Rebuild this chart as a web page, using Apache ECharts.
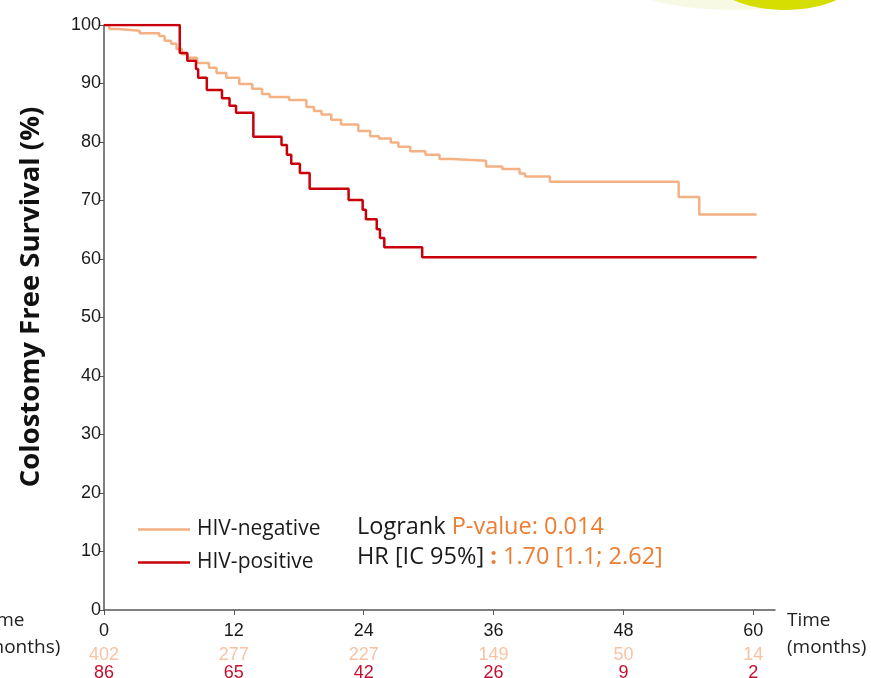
<!DOCTYPE html>
<html>
<head>
<meta charset="utf-8">
<script src="https://cdn.jsdelivr.net/npm/echarts@6/dist/echarts.min.js"></script>
<style>
  html, body { margin: 0; padding: 0; background: #fff; }
  #main { width: 871px; height: 678px; }
</style>
</head>
<body>
<div id="main"></div>
<script>
// HIV-negative (months, % free)
var negT = [0, 0.5, 1.3, 3.3, 5.1, 5.6, 6.2, 6.7, 7.2, 7.7, 8.6, 9.7, 10.4, 11.3, 12.5, 13.7, 14.6, 15.3, 17.1, 18.7, 19.4, 20.1, 21.0, 21.9, 23.5, 24.6, 25.4, 26.5, 27.2, 28.3, 29.7, 31.0, 32.2, 35.3, 36.8, 38.4, 38.9, 41.2, 53.1, 55.0, 60.3];
var negS = [100, 99.3, 99.0, 98.6, 98.1, 97.3, 96.8, 95.9, 95.0, 94.4, 93.5, 92.7, 91.8, 91.0, 89.9, 89.1, 88.2, 87.7, 87.2, 86.0, 85.3, 84.7, 83.8, 83.0, 81.9, 81.0, 80.6, 79.9, 79.2, 78.4, 77.8, 77.1, 76.8, 75.8, 75.4, 74.6, 74.1, 73.2, 70.6, 67.6, 67.6];
// HIV-positive
var posT = [0, 7.0, 7.7, 8.5, 8.7, 9.5, 10.9, 11.6, 12.2, 13.8, 16.4, 16.9, 17.3, 18.1, 19.0, 22.6, 23.9, 24.2, 25.2, 25.5, 25.9, 29.4, 60.3];
var posS = [100, 95.2, 93.9, 92.5, 91.0, 88.9, 87.5, 86.2, 85.0, 80.9, 79.5, 77.8, 76.3, 74.7, 72.0, 70.1, 68.4, 66.8, 65.1, 63.6, 62.0, 60.3, 60.3];

// number at risk
var riskTimes = [0, 12, 24, 36, 48, 60];
var riskNeg = [402, 277, 227, 149, 50, 14];
var riskPos = [86, 65, 42, 26, 9, 2];

var colNeg = '#f4b183';
var colPos = '#c8000a';

function pairs(t, s) {
    var out = [];
    for (var i = 0; i < t.length; i++) out.push([t[i], s[i]]);
    return out;
}

function riskAxis(offset, counts, color) {
    return {
        type: 'value', min: 0, max: 62, position: 'bottom', offset: offset,
        axisLine: { show: false }, axisTick: { show: false }, splitLine: { show: false },
        axisLabel: {
            customValues: riskTimes, margin: 13,
            color: color, fontFamily: 'Liberation Sans', fontSize: 18,
            formatter: function (v) { return counts[riskTimes.indexOf(v)]; }
        }
    };
}

var myChart = echarts.init(document.getElementById('main'));

var option = {
    animation: false,
    backgroundColor: '#fff',
    grid: { left: 104, right: 96, top: 25, bottom: 68, containLabel: false, outerBoundsMode: 'none' },
    legend: {
        orient: 'vertical', left: 133, top: 514, itemGap: 12,
        itemWidth: 52, itemHeight: 2.5, icon: 'rect',
        textStyle: { fontFamily: 'Open Sans', fontSize: 21, color: '#1a1a1a', padding: [0, 0, 0, 2] },
        data: ['HIV-negative', 'HIV-positive']
    },
    xAxis: [{
        type: 'value', min: 0, max: 62,
        axisLine: { lineStyle: { color: '#555', width: 1.5 } },
        axisTick: { customValues: riskTimes, length: 5, lineStyle: { color: '#555' } },
        axisLabel: { customValues: riskTimes, margin: 12, color: '#1a1a1a', fontFamily: 'Liberation Sans', fontSize: 18 },
        splitLine: { show: false }
    },
        riskAxis(23, riskNeg, '#f8c3a3'),
        riskAxis(41, riskPos, '#c8102e')
    ],
    yAxis: {
        type: 'value', min: 0, max: 100, interval: 10,
        axisLine: { show: true, lineStyle: { color: '#555', width: 1.5 } },
        axisTick: { show: true, length: 5, lineStyle: { color: '#555' } },
        axisLabel: { margin: 3, color: '#1a1a1a', fontFamily: 'Liberation Sans', fontSize: 18 },
        splitLine: { show: false }
    },
    series: [{
        name: 'HIV-negative', type: 'line', step: 'end', symbol: 'none',
        lineStyle: { color: colNeg, width: 2.5 }, itemStyle: { color: colNeg },
        data: pairs(negT, negS)
    }, {
        name: 'HIV-positive', type: 'line', step: 'end', symbol: 'none',
        lineStyle: { color: colPos, width: 2.5 }, itemStyle: { color: colPos },
        data: pairs(posT, posS)
    }],
    graphic: [
        // decorative blob top right
        { type: 'ellipse', shape: { cx: 735, cy: -18, rx: 110, ry: 28 }, style: { fill: '#f8f9e4' }, silent: true },
        { type: 'ellipse', shape: { cx: 785, cy: -30, rx: 78, ry: 40 }, style: { fill: '#d6dd00' }, silent: true },
        {
            type: 'text', x: 31, y: 297, rotation: Math.PI / 2,
            style: { text: 'Colostomy Free Survival (%)', fontFamily: 'Open Sans', fontWeight: 'bold', fontSize: 27.5, fill: '#111', align: 'center', verticalAlign: 'middle' }
        },
        { type: 'text', x: 787, y: 621, style: { text: 'Time', fontFamily: 'Open Sans', fontSize: 19, fill: '#222', verticalAlign: 'middle' } },
        { type: 'text', x: 787, y: 648, style: { text: '(months)', fontFamily: 'Open Sans', fontSize: 19, fill: '#222', verticalAlign: 'middle' } },
        { type: 'text', x: -19, y: 621, style: { text: 'Time', fontFamily: 'Open Sans', fontSize: 19, fill: '#222', verticalAlign: 'middle' } },
        { type: 'text', x: -19, y: 648, style: { text: '(months)', fontFamily: 'Open Sans', fontSize: 19, fill: '#222', verticalAlign: 'middle' } },
        {
            type: 'text', x: 357, y: 527,
            style: {
                text: 'Logrank {o|P-value: 0.014}', fontFamily: 'Open Sans', fontSize: 23.5, fill: '#1a1a1a', verticalAlign: 'middle',
                rich: { o: { fontFamily: 'Open Sans', fontSize: 23.5, fill: '#ed7d31' } }
            }
        },
        {
            type: 'text', x: 357, y: 557,
            style: {
                text: 'HR [IC 95%] {b|:} {o|1.70 [1.1; 2.62]}', fontFamily: 'Open Sans', fontSize: 23.5, fill: '#1a1a1a', verticalAlign: 'middle',
                rich: {
                    o: { fontFamily: 'Open Sans', fontSize: 23.5, fill: '#ed7d31' },
                    b: { fontFamily: 'Open Sans', fontSize: 23.5, fontWeight: 'bold', fill: '#ed7d31' }
                }
            }
        }
    ]
};

myChart.setOption(option);
window.onresize = function () {
    myChart.resize();
};
</script>
</body>
</html>
